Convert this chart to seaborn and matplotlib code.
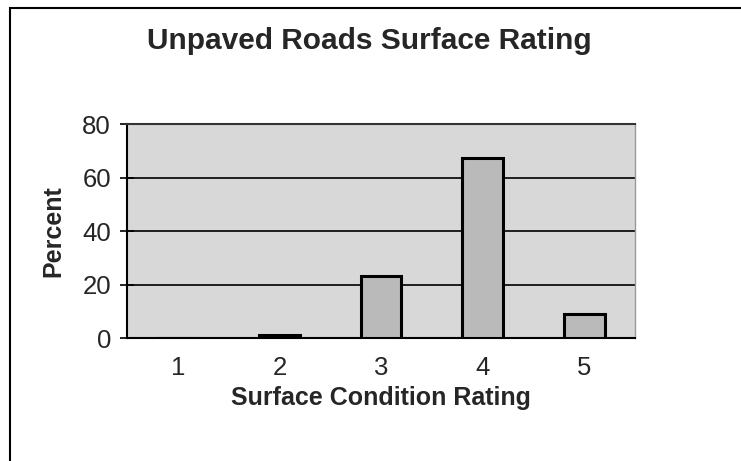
import matplotlib
matplotlib.use("Agg")
import matplotlib.pyplot as plt
import seaborn as sns
import pandas as pd
from matplotlib.patches import Rectangle

# data
ratings = ["1", "2", "3", "4", "5"]
percent = [0.0, 1.2, 23.3, 67.3, 9.1]
y_ticks = [0, 20, 40, 60, 80]

df = pd.DataFrame({"rating": ratings, "percent": percent})

sns.set_style("white")
plt.rcParams["font.family"] = ["Liberation Sans", "DejaVu Sans"]

fig = plt.figure(figsize=(7.41, 4.61), dpi=100)
ax = fig.add_axes([0.1714, 0.2668, 0.6856, 0.4642])
ax.set_facecolor("#d8d8d8")

sns.barplot(data=df, x="rating", y="percent", order=ratings, color="#bababa",
            width=0.4, edgecolor="black", linewidth=2.2, saturation=1, ax=ax, zorder=3)

ax.set_ylim(0, 80)
ax.set_xlim(-0.5, 4.5)
ax.set_yticks(y_ticks)
ax.yaxis.grid(True, color="black", linewidth=1.2, zorder=1)
ax.set_axisbelow(True)

# x ticks sit between categories, labels in the middle
ax.set_xticks(range(len(ratings)))
ax.set_xticks([i - 0.5 for i in range(len(ratings) + 1)], minor=True)
ax.tick_params(axis="x", which="major", length=0, pad=13, labelsize=18.5)
ax.tick_params(axis="x", which="minor", length=7, width=1.2, direction="out", color="black")
ax.tick_params(axis="y", length=10, width=1.2, direction="inout", pad=6.5, labelsize=18.5, color="black")
ax.tick_params(axis="both", bottom=True, left=True)

for side in ["left", "bottom"]:
    ax.spines[side].set_color("black")
    ax.spines[side].set_linewidth(1.5)
ax.spines["top"].set_color("#333333")
ax.spines["top"].set_linewidth(1.5)
ax.spines["right"].set_color("#999999")
ax.spines["right"].set_linewidth(1.0)

ax.set_xlabel("Surface Condition Rating", fontsize=18, fontweight="bold", labelpad=4)
ax.set_ylabel("Percent", fontsize=18, fontweight="bold", labelpad=12)
fig.text(0.498, 0.91, "Unpaved Roads Surface Rating", ha="center", va="center",
         fontsize=21.5, fontweight="bold")

# outer chart border (top and left visible in the scan)
fig.patches.append(Rectangle((10 / 741, -0.1), 1.2, (461 - 8) / 461 + 0.1,
                             transform=fig.transFigure, fill=False,
                             edgecolor="black", linewidth=1.5))

fig.savefig("out.png", dpi=100)
